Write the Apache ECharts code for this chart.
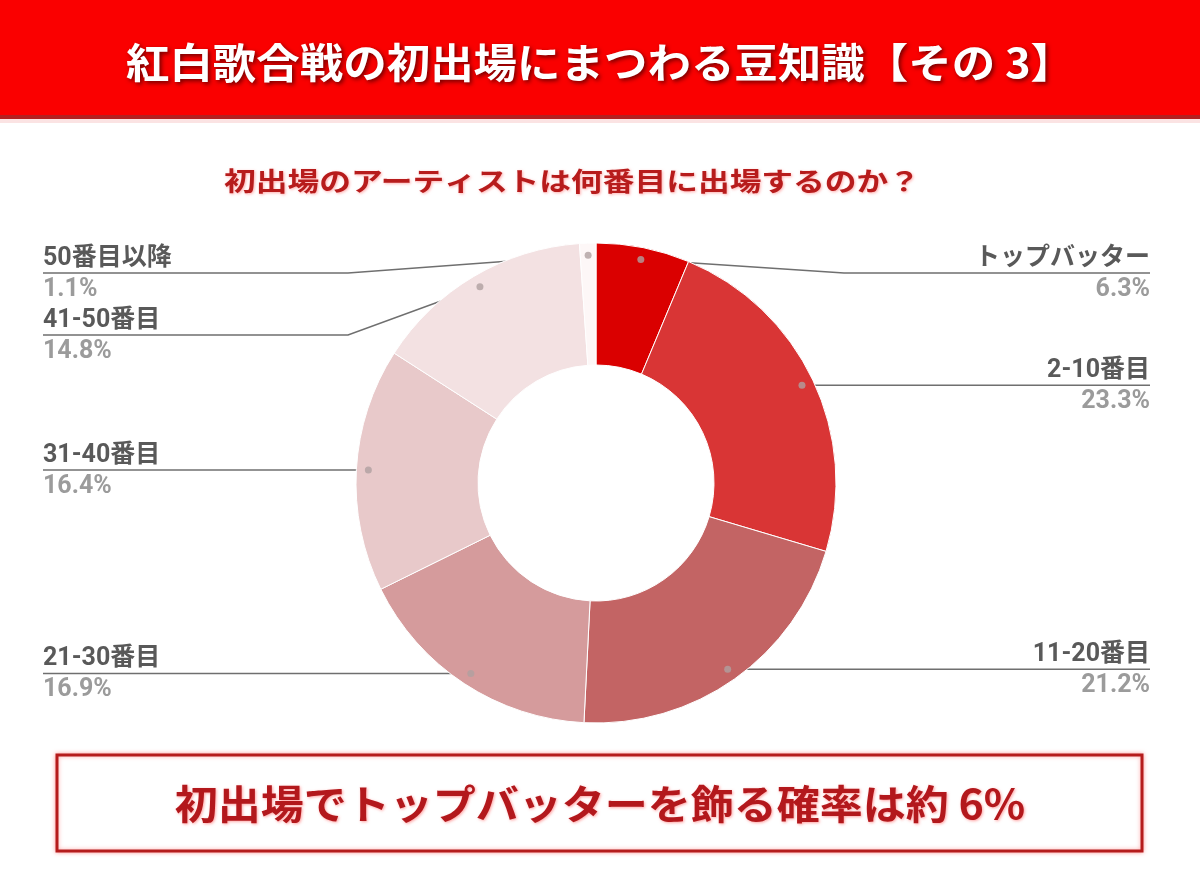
<!DOCTYPE html>
<html>
<head>
<meta charset="utf-8">
<script src="https://cdn.jsdelivr.net/npm/echarts@6/dist/echarts.min.js"></script>
<style>
html,body{margin:0;padding:0;background:#fff;}
#chart{width:1200px;height:886px;}
</style>
</head>
<body>
<div id="chart"></div>
<script>
// ---- data ----
const title = '紅白歌合戦の初出場にまつわる豆知識【その 3】';
const subtitle = '初出場のアーティストは何番目に出場するのか？';
const footnote = '初出場でトップバッターを飾る確率は約 6%';
const categories = ['トップバッター', '2-10番目', '11-20番目', '21-30番目', '31-40番目', '41-50番目', '50番目以降'];
const values = [6.3, 23.3, 21.2, 16.9, 16.4, 14.8, 1.1];
const sliceColors = ['#da0000', '#d93535', '#c36464', '#d59b9c', '#e8c9ca', '#f3e1e2', '#fdf7f7'];

// ---- layout (geometry of the ring and label placement rules) ----
const W = 1200, H = 886;
const CX = 596, CY = 483, R_OUT = 240, R_IN = 118, R_DOT = 228;
const LEFT_EDGE = 43, RIGHT_EDGE = 1150, ELBOW = 248, GAP = 62, TOP_MIN = CY - R_OUT + 30;

const total = values.reduce((a, b) => a + b, 0);
let acc = 0;
const dots = values.map(v => {
  const mid = (acc + v / 2) / total * Math.PI * 2;
  acc += v;
  return { x: CX + R_DOT * Math.sin(mid), y: CY - R_DOT * Math.cos(mid), right: Math.sin(mid) >= 0 };
});
const lineY = new Array(values.length);
[true, false].forEach(side => {
  const idx = dots.map((d, i) => i).filter(i => dots[i].right === side).sort((a, b) => dots[a].y - dots[b].y);
  let prev = -Infinity;
  idx.forEach(i => {
    const y = Math.max(dots[i].y, prev + GAP, TOP_MIN);
    lineY[i] = y; prev = y;
  });
});

const FONT = "Roboto, 'Noto Sans CJK JP', sans-serif";
const chart = echarts.init(document.getElementById('chart'), null, { renderer: 'canvas' });

chart.setOption({
  backgroundColor: '#ffffff',
  animation: false,
  graphic: [
    { type: 'rect', shape: { x: 0, y: 0, width: W, height: 117 }, style: { fill: '#fa0000' }, silent: true },
    { type: 'rect', shape: { x: 0, y: 115, width: W, height: 4 }, style: { fill: '#b32020' }, silent: true },
    { type: 'rect', shape: { x: 0, y: 119, width: W, height: 4 }, style: { fill: '#fbe3e3' }, silent: true },
    {
      type: 'text', x: 600, y: 62, scaleX: 1.06, silent: true,
      style: {
        text: title, font: "bold 41px 'Noto Sans CJK JP', sans-serif", fill: '#ffffff',
        align: 'center', verticalAlign: 'middle',
        textShadowColor: 'rgba(90,0,0,0.85)', textShadowBlur: 4, textShadowOffsetX: 2, textShadowOffsetY: 2
      }
    },
    {
      type: 'text', x: 572, y: 181, scaleX: 1.22, silent: true,
      style: {
        text: subtitle, font: "bold 26px 'Noto Sans CJK JP', sans-serif", fill: '#b71c1c',
        align: 'center', verticalAlign: 'middle',
        textShadowColor: 'rgba(255,120,120,0.6)', textShadowBlur: 3, textShadowOffsetX: 1, textShadowOffsetY: 1
      }
    },
    {
      type: 'rect', shape: { x: 57, y: 755, width: 1085, height: 96 }, silent: true,
      style: { fill: '#ffffff', stroke: '#b51c1c', lineWidth: 3, shadowColor: 'rgba(255,80,80,0.5)', shadowBlur: 4 }
    },
    {
      type: 'text', x: 600, y: 804, scaleX: 1.075, silent: true,
      style: {
        text: footnote, font: "bold 40px 'Noto Sans CJK JP', sans-serif", fill: '#b3181c',
        align: 'center', verticalAlign: 'middle',
        textShadowColor: 'rgba(255,100,100,0.6)', textShadowBlur: 3, textShadowOffsetX: 1, textShadowOffsetY: 1
      }
    }
  ],
  series: [
    {
      type: 'pie',
      center: [CX, CY],
      radius: [R_IN, R_OUT],
      startAngle: 90,
      clockwise: true,
      silent: true,
      data: categories.map((c, i) => ({ name: c, value: values[i], itemStyle: { color: sliceColors[i] } })),
      itemStyle: { borderColor: '#ffffff', borderWidth: 1 },
      label: {
        show: true,
        position: 'outer',
        formatter: p => '{n|' + p.name + '}\n{p|' + p.value.toFixed(1) + '%}',
        rich: {
          n: { fontFamily: FONT, fontSize: 25, fontWeight: 'bold', color: '#595959', lineHeight: 31 },
          p: { fontFamily: FONT, fontSize: 25, fontWeight: 'bold', color: '#9b9b9b', lineHeight: 31 }
        }
      },
      labelLine: { show: true, lineStyle: { color: '#6f6f6f', width: 1.5 } },
      labelLayout: params => {
        const i = params.dataIndex;
        const d = dots[i];
        const y = lineY[i];
        const edge = d.right ? RIGHT_EDGE : LEFT_EDGE;
        const elbow = d.right ? CX + ELBOW : CX - ELBOW;
        return {
          x: edge, y: y + 1,
          align: d.right ? 'right' : 'left',
          verticalAlign: 'middle',
          labelLinePoints: [[d.x, d.y], [elbow, y], [edge, y]]
        };
      },
      emphasis: { disabled: true }
    },
    {
      type: 'custom',
      coordinateSystem: 'none',
      silent: true,
      z: 5,
      data: values,
      renderItem: (params) => {
        const d = dots[params.dataIndex];
        return { type: 'circle', shape: { cx: d.x, cy: d.y, r: 3.5 }, style: { fill: 'rgba(175,160,160,0.8)' } };
      }
    }
  ]
});
</script>
</body>
</html>
